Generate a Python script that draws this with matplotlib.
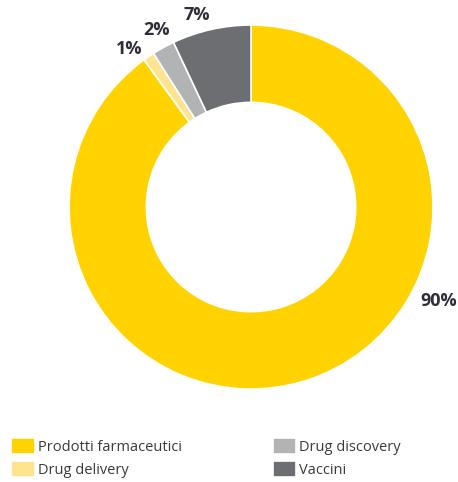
import matplotlib.pyplot as plt

plt.rcParams['font.family'] = ['Open Sans', 'DejaVu Sans']

categories = ['Prodotti farmaceutici', 'Drug delivery', 'Drug discovery', 'Vaccini']
values = [90, 1, 2, 7]
labels = ['90%', '1%', '2%', '7%']
colors = ['#FFD200', '#FFE38F', '#B2B3B5', '#6D6E71']

# label positions in units of the outer radius
label_pos = [(1.03, -0.515), (-0.67, 0.87), (-0.52, 0.97), (-0.30, 1.055)]

fig = plt.figure(figsize=(4.58, 4.82), dpi=100)
ax = fig.add_axes([0.1507, 0.1929, 0.7948, 0.7552])

wedges, _ = ax.pie(values, colors=colors, startangle=90, counterclock=False,
                   radius=1.0, wedgeprops=dict(width=0.425, edgecolor='white', linewidth=1.2))
ax.set_xlim(-1, 1)
ax.set_ylim(-1, 1)
ax.axis('off')

for (x, y), lab in zip(label_pos, labels):
    ax.text(x, y, lab, ha='center', va='center', fontsize=13, fontweight='bold',
            color='#2E2E38')

fig.legend(wedges, categories, loc='upper left', bbox_to_anchor=(0.012, 0.104),
           ncol=2, frameon=False, fontsize=10.5, handlelength=1.6, handleheight=1.3,
           handletextpad=0.2, columnspacing=6.25, labelspacing=0.45, borderaxespad=0,
           labelcolor='#3a3a3a')

fig.savefig('out.png', dpi=100)
